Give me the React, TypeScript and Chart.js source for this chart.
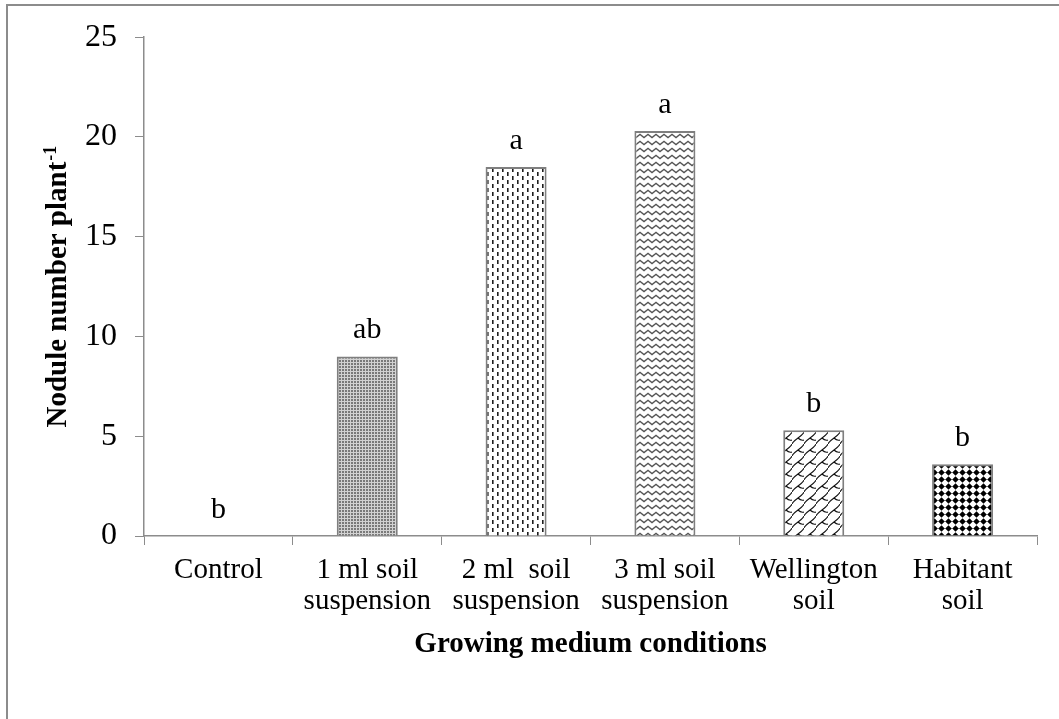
import { useEffect, useRef } from "react";
import { Chart, registerables } from "chart.js";

Chart.register(...registerables);

const categories: string[][] = [
  ["Control"],
  ["1 ml soil", "suspension"],
  ["2 ml  soil", "suspension"],
  ["3 ml soil", "suspension"],
  ["Wellington", "soil"],
  ["Habitant", "soil"],
];
const nodules = [0, 9.0, 18.5, 20.3, 5.3, 3.6];
const letters = ["b", "ab", "a", "a", "b", "b"];
const yTicks = [0, 5, 10, 15, 20, 25];
const xTitle = "Growing medium conditions";
const yTitle = "Nodule number plant";
const yTitleSup = "-1";

const FAMILY = '"Liberation Serif", "Times New Roman", serif';

function makeTile(w: number, h: number, draw: (g: CanvasRenderingContext2D) => void) {
  const c = document.createElement("canvas");
  c.width = w;
  c.height = h;
  const g = c.getContext("2d")!;
  g.fillStyle = "#fff";
  g.fillRect(0, 0, w, h);
  draw(g);
  return c;
}

function buildPatterns(ctx: CanvasRenderingContext2D): (CanvasPattern | string)[] {
  const dots = makeTile(3, 3, (g) => {
    g.fillStyle = "#d2d2d2";
    g.fillRect(0, 0, 3, 3);
    g.fillStyle = "#7a7a7a";
    g.fillRect(0, 0, 2, 2);
  });
  const dashes = makeTile(10, 8, (g) => {
    g.fillStyle = "#1e1e1e";
    g.fillRect(2, 0, 1.6, 4);
    g.fillRect(7, 4, 1.6, 4);
  });
  const zigzag = makeTile(8, 7, (g) => {
    g.strokeStyle = "#555";
    g.lineWidth = 1.4;
    g.beginPath();
    g.moveTo(-1, 0.5);
    g.lineTo(4, 4.5);
    g.lineTo(9, 0.5);
    g.stroke();
  });
  const shingle = makeTile(12, 12, (g) => {
    g.strokeStyle = "#111";
    g.lineWidth = 1.2;
    g.beginPath();
    // S-shaped diagonal rising to the right
    g.moveTo(0, 12);
    g.bezierCurveTo(1, 8, 11, 4, 12, 0);
    // short arched connector forming the shingle rows
    g.moveTo(6, 6);
    g.quadraticCurveTo(9, 9, 12, 8);
    g.moveTo(0, 8);
    g.quadraticCurveTo(-1, 8, -1, 8);
    g.stroke();
  });
  const diamonds = makeTile(7, 7, (g) => {
    g.strokeStyle = "#999";
    g.lineWidth = 0.8;
    g.beginPath();
    g.moveTo(0, 3.5);
    g.lineTo(7, 3.5);
    g.stroke();
    g.fillStyle = "#000";
    g.beginPath();
    g.moveTo(3.5, 0.3);
    g.lineTo(6.7, 3.5);
    g.lineTo(3.5, 6.7);
    g.lineTo(0.3, 3.5);
    g.closePath();
    g.fill();
  });
  const tiles = [dots, dots, dashes, zigzag, shingle, diamonds];
  return tiles.map((t) => ctx.createPattern(t, "repeat") || "#ccc");
}

const framePlugin = {
  id: "frame",
  beforeDraw(chart: any) {
    const c = chart.ctx as CanvasRenderingContext2D;
    c.save();
    c.fillStyle = "#fff";
    c.fillRect(0, 0, chart.width, chart.height);
    c.restore();
  },
  afterDraw(chart: any) {
    const c = chart.ctx as CanvasRenderingContext2D;
    c.save();
    c.strokeStyle = "#8c8c8c";
    c.lineWidth = 2;
    c.beginPath();
    c.moveTo(6, 5);
    c.lineTo(chart.width, 5);
    c.moveTo(7, 4);
    c.lineTo(7, chart.height);
    c.stroke();
    c.restore();
  },
};

const lettersPlugin = {
  id: "letters",
  afterDatasetsDraw(chart: any) {
    const c = chart.ctx as CanvasRenderingContext2D;
    const meta = chart.getDatasetMeta(0);
    c.save();
    c.fillStyle = "#000";
    c.font = `30px ${FAMILY}`;
    c.textAlign = "center";
    c.textBaseline = "alphabetic";
    meta.data.forEach((bar: any, i: number) => {
      c.fillText(letters[i], bar.x, bar.y - 18);
    });
    c.restore();
  },
};

const yTitlePlugin = {
  id: "ytitle",
  afterDraw(chart: any) {
    const c = chart.ctx as CanvasRenderingContext2D;
    const area = chart.chartArea;
    c.save();
    c.translate(59, (area.top + area.bottom) / 2);
    c.rotate(-Math.PI / 2);
    c.fillStyle = "#000";
    c.textBaseline = "middle";
    c.textAlign = "left";
    c.font = `bold 29px ${FAMILY}`;
    const w1 = c.measureText(yTitle).width;
    c.font = `bold 18px ${FAMILY}`;
    const w2 = c.measureText(yTitleSup).width;
    const start = -(w1 + w2 + 1) / 2;
    c.font = `bold 29px ${FAMILY}`;
    c.fillText(yTitle, start, 0);
    c.font = `bold 18px ${FAMILY}`;
    c.fillText(yTitleSup, start + w1 + 1, -8);
    c.restore();
  },
};

export default function App() {
  const ref = useRef<HTMLCanvasElement>(null);
  useEffect(() => {
    const canvas = ref.current!;
    const ctx = canvas.getContext("2d")!;
    const patterns = buildPatterns(ctx);
    const chart = new Chart(ctx, {
      type: "bar",
      data: {
        labels: categories,
        datasets: [
          {
            data: nodules,
            backgroundColor: patterns,
            borderColor: "#7f7f7f",
            borderWidth: nodules.map((v) => (v > 0 ? 2 : 0)),
            barPercentage: 0.41,
            categoryPercentage: 1,
          },
        ],
      },
      options: {
        responsive: false,
        animation: false,
        devicePixelRatio: 1,
        layout: { padding: { top: 35, right: 22, bottom: 57, left: 0 } },
        plugins: { legend: { display: false }, tooltip: { enabled: false } },
        scales: {
          x: {
            grid: { display: true, drawOnChartArea: false, tickLength: 9, color: "#8c8c8c", offset: true },
            border: { color: "#8c8c8c", width: 1.5 },
            ticks: {
              font: { family: FAMILY, size: 29, lineHeight: 1.1 },
              color: "#000",
              padding: 9,
              maxRotation: 0,
              minRotation: 0,
              autoSkip: false,
            },
            title: {
              display: true,
              text: xTitle,
              color: "#000",
              padding: 0,
              font: { family: FAMILY, size: 29, weight: "bold" },
            },
            afterFit: (s: any) => {
              s.height = 126;
            },
          },
          y: {
            min: 0,
            max: 25,
            afterBuildTicks: (s: any) => {
              s.ticks = yTicks.map((v) => ({ value: v }));
            },
            grid: { drawOnChartArea: false, tickLength: 9, color: "#8c8c8c" },
            border: { color: "#8c8c8c", width: 1.5 },
            ticks: {
              font: { family: FAMILY, size: 32 },
              color: "#000",
              padding: 18,
            },
            afterFit: (s: any) => {
              s.width = 144;
            },
          },
        },
      } as any,
      plugins: [framePlugin, lettersPlugin, yTitlePlugin],
    });
    return () => chart.destroy();
  }, []);
  return (
    <div style={{ position: "fixed", left: 0, top: 0, width: 1059, height: 719 }}>
      <canvas ref={ref} width={1059} height={719} style={{ display: "block" }} />
    </div>
  );
}
